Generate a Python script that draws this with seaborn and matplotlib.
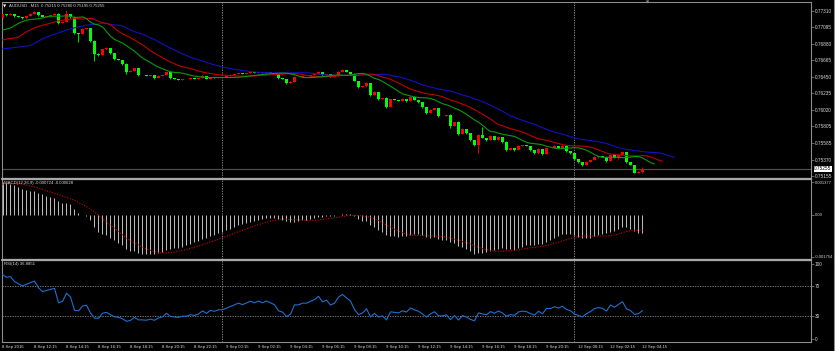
import numpy as np
import pandas as pd
import matplotlib
matplotlib.use("Agg")
import matplotlib.pyplot as plt
import matplotlib.transforms as mtransforms
from matplotlib.lines import Line2D
import seaborn as sns

# ---------------- data ----------------
symbol = "AUDUSD...M15"
last_ohlc = ["0.75215", "0.75280", "0.75195", "0.75255"]
session_1 = ("2016-09-08 10:15", "2016-09-09 21:45")
session_2 = ("2016-09-12 00:00", "2016-09-12 04:15")

first_open = 0.77218
closes = [
    0.77271, 0.77257, 0.77271, 0.77244, 0.77231, 0.77218, 0.77244, 0.77271, 0.77297, 0.77257,
    0.77231, 0.77244, 0.77257, 0.77271, 0.77153, 0.77166, 0.77271, 0.77231, 0.77023, 0.77010,
    0.77075, 0.77088, 0.76919, 0.76749, 0.76736, 0.76815, 0.76828, 0.76762, 0.76685, 0.76671,
    0.76619, 0.76515, 0.76528, 0.76567, 0.76476, 0.76476, 0.76463, 0.76476, 0.76437, 0.76463,
    0.76476, 0.76515, 0.76437, 0.76424, 0.76411, 0.76424, 0.76424, 0.76437, 0.76424, 0.76437,
    0.76463, 0.76424, 0.76450, 0.76437, 0.76450, 0.76450, 0.76463, 0.76476, 0.76489, 0.76502,
    0.76489, 0.76502, 0.76515, 0.76502, 0.76515, 0.76502, 0.76515, 0.76502, 0.76489, 0.76437,
    0.76424, 0.76372, 0.76385, 0.76450, 0.76450, 0.76463, 0.76463, 0.76476, 0.76489, 0.76515,
    0.76476, 0.76489, 0.76450, 0.76463, 0.76515, 0.76541, 0.76515, 0.76489, 0.76398, 0.76319,
    0.76332, 0.76372, 0.76215, 0.76254, 0.76163, 0.76176, 0.76059, 0.76163, 0.76150, 0.76137,
    0.76163, 0.76137, 0.76189, 0.76150, 0.76124, 0.76059, 0.75981, 0.76020, 0.76046, 0.75942,
    0.75942, 0.75955, 0.75811, 0.75863, 0.75707, 0.75772, 0.75720, 0.75629, 0.75564, 0.75694,
    0.75655, 0.75629, 0.75681, 0.75629, 0.75668, 0.75603, 0.75499, 0.75525, 0.75499, 0.75551,
    0.75564, 0.75551, 0.75499, 0.75459, 0.75512, 0.75446, 0.75525, 0.75525, 0.75551, 0.75525,
    0.75551, 0.75486, 0.75459, 0.75381, 0.75342, 0.75303, 0.75342, 0.75368, 0.75407, 0.75420,
    0.75407, 0.75355, 0.75433, 0.75394, 0.75433, 0.75472, 0.75342, 0.75303, 0.75205, 0.75215,
    0.75255,
]
upper_wick_pts = [
    6, 5, 8, 4, 6, 5, 4, 8, 10, 5,
    4, 6, 5, 8, 12, 6, 50, 5, 8, 6,
    8, 6, 5, 10, 8, 6, 10, 5, 6, 4,
    6, 8, 10, 6, 5, 6, 4, 6, 5, 8,
    6, 5, 4, 6, 5, 4, 6, 5, 4, 5,
    8, 5, 6, 4, 5, 6, 4, 8, 6, 5,
    6, 5, 8, 4, 6, 5, 6, 4, 5, 6,
    5, 6, 8, 10, 5, 6, 4, 5, 6, 12,
    6, 5, 4, 6, 8, 10, 5, 6, 8, 5,
    6, 10, 5, 8, 6, 5, 8, 6, 5, 4,
    8, 5, 10, 6, 5, 6, 5, 8, 6, 5,
    4, 6, 8, 6, 10, 8, 6, 5, 6, 12,
    100, 6, 8, 5, 10, 6, 8, 6, 5, 8,
    6, 5, 4, 6, 8, 5, 10, 6, 8, 5,
    8, 6, 5, 6, 5, 4, 8, 6, 8, 5,
    6, 10, 8, 5, 6, 12, 6, 5, 6, 8,
    25,
]
lower_wick_pts = [
    5, 6, 4, 6, 5, 8, 6, 4, 5, 6,
    5, 4, 6, 5, 8, 6, 5, 6, 10, 100,
    6, 5, 8, 90, 10, 6, 5, 8, 10, 6,
    8, 30, 6, 5, 8, 6, 5, 4, 8, 5,
    6, 5, 8, 6, 5, 6, 4, 5, 6, 5,
    4, 6, 5, 6, 4, 5, 6, 5, 4, 6,
    5, 6, 4, 5, 6, 4, 5, 6, 5, 8,
    6, 10, 5, 6, 5, 4, 6, 5, 4, 6,
    8, 5, 6, 5, 4, 6, 5, 8, 6, 10,
    5, 6, 12, 6, 8, 6, 10, 5, 6, 5,
    6, 8, 5, 6, 8, 10, 8, 6, 5, 8,
    6, 5, 20, 6, 10, 6, 8, 10, 12, 100,
    6, 8, 5, 6, 5, 8, 10, 6, 8, 5,
    6, 5, 10, 8, 6, 10, 5, 6, 4, 6,
    5, 8, 10, 6, 8, 10, 6, 5, 4, 6,
    5, 8, 6, 5, 6, 4, 8, 6, 10, 8,
    20,
]

# Alligator lines: values at the left edge (before the visible bars feed them)
lips_start = [0.77062, 0.77075, 0.77088]
teeth_start = [0.76932, 0.76945, 0.76951, 0.76958, 0.76971]
jaw_start = [0.76815, 0.76821, 0.76828, 0.76834, 0.76841, 0.76847, 0.76854, 0.76860]

# MACD / RSI state at the left edge
ema_fast_start = 0.77154
ema_slow_start = 0.77017
macd_before = [0.00118, 0.00121, 0.00124, 0.00127, 0.00129, 0.00131, 0.00133, 0.00135]
rsi_gain_start = 0.00020
rsi_loss_start = 0.00004

price_ticks = [0.77310, 0.77095, 0.76880, 0.76665, 0.76450, 0.76235, 0.76020,
               0.75805, 0.75585, 0.75370, 0.75155]
macd_ticks = [0.001377, 0.0, -0.001754]
macd_tick_text = ["0.001377", "0.00", "-0.001754"]
rsi_ticks = [100, 70, 30, 0]
rsi_levels = [70, 30]
bid_price = 0.75255
macd_title = "MACD(12,26,9) -0.000724 -0.000628"
rsi_title = "RSI(14) 36.8851"

# ---------------- derived series ----------------
times = pd.date_range(*session_1, freq="15min").append(pd.date_range(*session_2, freq="15min"))
n = len(closes)
c = np.array(closes)
o = np.concatenate([[first_open], c[:-1]])
h = np.maximum(o, c) + np.array(upper_wick_pts) * 1e-5
l = np.minimum(o, c) - np.array(lower_wick_pts) * 1e-5
idx = np.arange(n)
median = (h + l) / 2


def smma_line(start, period, src):
    vals = list(start)
    s = start[-1]
    for v in src:
        s = (s * (period - 1) + v) / period
        vals.append(s)
    return np.array(vals)


jaw = smma_line(jaw_start, 13, median)
teeth = smma_line(teeth_start, 8, median)
lips = smma_line(lips_start, 5, median)


def ema(start, period, src):
    out, e = [], start
    k = 2.0 / (period + 1)
    for v in src:
        e = e + k * (v - e)
        out.append(e)
    return np.array(out)


macd = ema(ema_fast_start, 12, c) - ema(ema_slow_start, 26, c)
signal = pd.Series(np.concatenate([macd_before, macd])).rolling(9).mean().to_numpy()[len(macd_before):]

ag, al = rsi_gain_start, rsi_loss_start
rsi = []
for d in (c - o):
    ag = (ag * 13 + max(d, 0)) / 14
    al = (al * 13 + max(-d, 0)) / 14
    rsi.append(100 - 100 / (1 + ag / al) if al > 0 else 100)
rsi = np.array(rsi)

tick_idx = [i for i, t in enumerate(times) if t.minute == 15 and t.hour % 2 == 0]
tick_lab = []
for k, i in enumerate(tick_idx):
    t = times[i]
    tick_lab.append(f"{t.day} {t.strftime('%b')} {t.year}" if k == 0 else f"{t.day} {t.strftime('%b %H:%M')}")
sep_idx = [i for i in range(1, n) if times[i].date() != times[i - 1].date()]

# ---------------- drawing ----------------
sns.set_theme(style="dark", rc={"axes.facecolor": "black", "figure.facecolor": "black"})
plt.rcParams["font.family"] = ["Liberation Sans", "DejaVu Sans"]

W, H = 835, 351
fig = plt.figure(figsize=(W / 100, H / 100), dpi=100)
fig.patch.set_facecolor("black")


def rect(x0, y0, x1, y1):
    return [x0 / W, 1 - y1 / H, (x1 - x0) / W, (y1 - y0) / H]


def fxy(x, y):
    return x / W, 1 - y / H


ax_m = fig.add_axes(rect(2, 2, 811, 178))
ax_d = fig.add_axes(rect(2, 179, 811, 259))
ax_r = fig.add_axes(rect(2, 260, 811, 342))

xlim = ((2 - 2.5) / 4, (811 - 2.5) / 4)
FS = 3.4
FSX = 3.1
TXT = "#d8d8d8"
GRID = "#9a9a9a"

for ax in (ax_m, ax_d, ax_r):
    ax.set_facecolor("black")
    ax.set_xlim(*xlim)
    ax.grid(False)
    for sp in ax.spines.values():
        sp.set_color("#8c8c8c")
        sp.set_linewidth(0.8)
    ax.yaxis.tick_right()
    ax.tick_params(axis="y", colors="#8c8c8c", labelcolor=TXT, labelsize=FS,
                   length=2, width=0.5, pad=0.8, direction="out")
    for s in sep_idx:
        ax.axvline(s, color=GRID, lw=0.6, ls=(0, (1.5, 1.5)), zorder=1)

# main: candles
ax_m.set_ylim(0.75134, 0.77427)
ax_m.axhline(bid_price, color="#4c4c4c", lw=0.9, zorder=1)
up = c > o
col = np.where(up, "#ff0000", "#00ff00")
ax_m.vlines(idx, l, h, colors=col, lw=0.6, zorder=3)
ax_m.bar(idx, np.maximum(np.abs(c - o), 1.2e-5), bottom=np.minimum(o, c), width=0.72,
         color=col, linewidth=0, zorder=4)
sns.lineplot(x=np.arange(len(jaw)), y=jaw, ax=ax_m, color="#1212c0", lw=0.8, zorder=5)
sns.lineplot(x=np.arange(len(teeth)), y=teeth, ax=ax_m, color="#c00000", lw=0.8, zorder=5)
sns.lineplot(x=np.arange(len(lips)), y=lips, ax=ax_m, color="#0a9a0a", lw=0.8, zorder=5)
ax_m.set_yticks(price_ticks)
ax_m.set_yticklabels([f"{p:.5f}" for p in price_ticks])
ax_m.set_xticks([])
trans = mtransforms.blended_transform_factory(ax_m.transAxes, ax_m.transData)
ax_m.text(1.004, bid_price, f"{bid_price:.5f}", transform=trans, fontsize=FS, color="black",
          va="center", ha="left", zorder=10, clip_on=False,
          bbox=dict(boxstyle="square,pad=0.15", fc="white", ec="none"))

# MACD
ax_d.set_ylim(-0.00185, 0.001503)
ax_d.vlines(idx, 0, macd, colors="#c0c0c0", lw=0.7, zorder=3)
sns.lineplot(x=idx, y=signal, ax=ax_d, color="#d00000", lw=0.8, linestyle=(0, (1, 1.4)), zorder=4)
ax_d.set_yticks(macd_ticks)
ax_d.set_yticklabels(macd_tick_text)
ax_d.tick_params(axis="y", labelsize=3.0, pad=0.5)
ax_d.set_xticks([])

# RSI
ax_r.set_ylim(-4.4, 105.4)
for lv in rsi_levels:
    ax_r.axhline(lv, color="#8c8c8c", lw=0.6, ls=(0, (1.5, 1.5)), zorder=1)
sns.lineplot(x=idx, y=rsi, ax=ax_r, color="#1e6fd0", lw=0.8, zorder=4)
ax_r.set_yticks(rsi_ticks)
ax_r.set_yticklabels([str(v) for v in rsi_ticks])
ax_r.set_xticks(tick_idx)
ax_r.set_xticklabels(tick_lab)
ax_r.tick_params(axis="x", colors="#8c8c8c", labelcolor=TXT, labelsize=FSX,
                 length=2, width=0.5, pad=0.5, direction="out")
for t in ax_r.get_xticklabels():
    t.set_ha("left")

for ax in (ax_m, ax_d, ax_r):
    ax.set_xlabel("")
    ax.set_ylabel("")

# separators and window edge
for yy in (178.5, 259.5):
    fig.add_artist(Line2D([2 / W, 811 / W], [1 - yy / H] * 2, color="#a8a8a8", lw=1.6))
fig.add_artist(Line2D([833.5 / W] * 2, [0, 1], color="#8c8c8c", lw=0.8))

# titles
fig.text(*fxy(3, 6), "\u25bc", fontsize=3.0, color="white", va="center", ha="left",
         family=["DejaVu Sans"])
fig.text(*fxy(9, 6), f"{symbol}  " + " ".join(last_ohlc), fontsize=FSX, color=TXT,
         va="center", ha="left")
fig.text(*fxy(4, 183), macd_title, fontsize=FSX, color=TXT, va="center", ha="left")
fig.text(*fxy(4, 264), rsi_title, fontsize=FSX, color=TXT, va="center", ha="left")
fig.text(*fxy(648, 3), "\u25bc", fontsize=3.0, color="#8c8c8c", va="center", ha="center",
         family=["DejaVu Sans"])

fig.savefig("out.png", dpi=100, facecolor="black")
